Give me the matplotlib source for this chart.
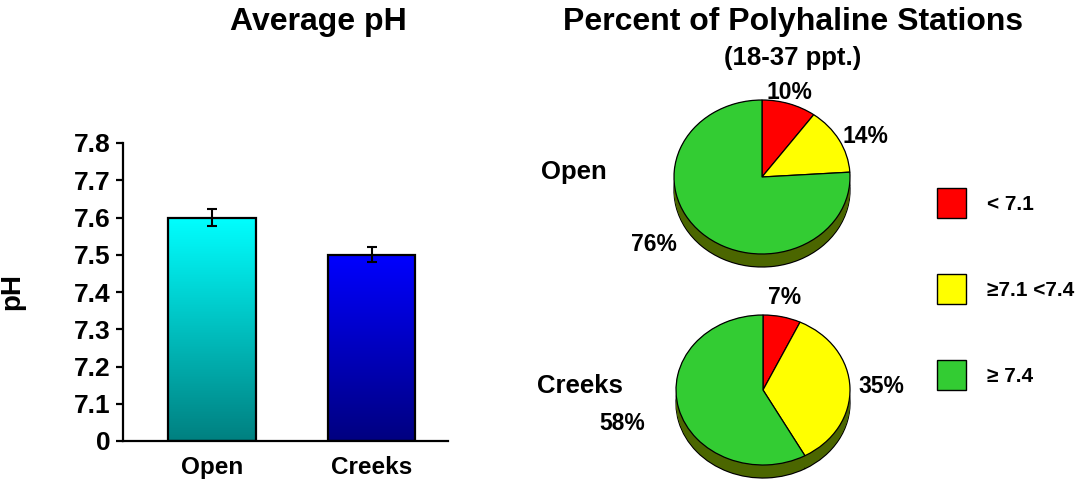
import numpy as np
import matplotlib
matplotlib.use("Agg")
from matplotlib import pyplot as plt

plt.rcParams["font.family"] = ["Liberation Sans", "DejaVu Sans"]
plt.rcParams["font.weight"] = "bold"

# data
sites = ["Open", "Creeks"]
avg_ph = [7.60, 7.50]
ph_err = [0.022, 0.02]
ph_ticks = [7.0, 7.1, 7.2, 7.3, 7.4, 7.5, 7.6, 7.7, 7.8]
ph_ticklabels = ["0", "7.1", "7.2", "7.3", "7.4", "7.5", "7.6", "7.7", "7.8"]

classes = ["< 7.1", "\u22657.1 <7.4", "\u2265 7.4"]
open_pct = [10, 14, 76]
creeks_pct = [7, 35, 58]

class_colors = ["#ff0000", "#ffff00", "#33cc33"]
side_color = "#4b6600"
bar_grad = [("#00ffff", "#008080"), ("#0000ff", "#000080")]

W, H = 1083, 482
fig = plt.figure(figsize=(W / 100, H / 100), dpi=100)


def fx(px):
    return px / W


def fy(py):
    return 1 - py / H


# ---- bar chart ----
ax = fig.add_axes([fx(123), fy(441), fx(448) - fx(123), fy(143) - fy(441)])
x = np.arange(len(sites))
width = 0.55
bars = ax.bar(x, np.array(avg_ph) - 7.0, bottom=7.0, width=width,
              facecolor="none", edgecolor="black", linewidth=1.6, zorder=3)
for b, (top_c, bot_c), xi, v in zip(bars, bar_grad, x, avg_ph):
    grad = np.linspace(0, 1, 256)[:, None]
    c1 = np.array(matplotlib.colors.to_rgb(top_c))
    c2 = np.array(matplotlib.colors.to_rgb(bot_c))
    img = c1[None, None, :] * (1 - grad[:, :, None]) + c2[None, None, :] * grad[:, :, None]
    im = ax.imshow(img, extent=[xi - width / 2, xi + width / 2, 7.0, v],
                   aspect="auto", origin="upper", zorder=2)
    im.set_clip_path(b)
ax.errorbar(x, avg_ph, yerr=ph_err, fmt="none", ecolor="black",
            elinewidth=1.5, capsize=3.5, capthick=1.5, zorder=4)
ax.set_xlim(-0.56, 1.48)
ax.set_ylim(7.0, 7.8)
ax.set_yticks(ph_ticks)
ax.set_yticklabels(ph_ticklabels, fontsize=19, fontweight="bold")
ax.set_xticks(x)
ax.set_xticklabels(sites, fontsize=17.5, fontweight="bold")
ax.tick_params(axis="y", direction="out", length=5, width=1.6, pad=4)
ax.tick_params(axis="x", length=0, pad=11)
for s in ["top", "right"]:
    ax.spines[s].set_visible(False)
for s in ["left", "bottom"]:
    ax.spines[s].set_linewidth(1.6)
ax.set_ylabel("pH", fontsize=20, fontweight="bold")
ax.yaxis.set_label_coords(-0.30, 0.5)

fig.text(fx(318), fy(22), "Average pH", fontsize=23, fontweight="bold",
         ha="center", va="center")

# ---- pies ----
fig.text(fx(793), fy(22), "Percent of Polyhaline Stations", fontsize=23,
         fontweight="bold", ha="center", va="center")
fig.text(fx(793), fy(58), "(18-37 ppt.)", fontsize=18.5, fontweight="bold",
         ha="center", va="center")

XL, YL = (-1.3, 1.3), (-1.5, 1.3)


def pie3d(cx, cy, rx, ry, depth_px, values, label_pos, name, name_xy):
    pax = fig.add_axes([fx(cx + XL[0] * rx), fy(cy - YL[0] * ry),
                        (XL[1] - XL[0]) * rx / W, (YL[1] - YL[0]) * ry / H])
    d = depth_px / ry
    # side of the disc
    n = 14
    for k in range(n + 1):
        off = -d * (1 - k / n)
        pax.pie(values, startangle=90, counterclock=False,
                colors=[side_color] * len(values), center=(0, off),
                wedgeprops=dict(linewidth=0.9 if k == 0 else 0,
                                edgecolor="black"))
    # top face
    pax.pie(values, startangle=90, counterclock=False, colors=class_colors,
            wedgeprops=dict(linewidth=0.9, edgecolor="black"))
    pax.set_aspect("auto")
    pax.set_xlim(*XL)
    pax.set_ylim(*YL)
    pax.axis("off")
    for v, (lx, ly) in zip(values, label_pos):
        pax.text(lx, ly, f"{v}%", fontsize=16.5, fontweight="bold",
                 ha="center", va="center", clip_on=False)
    fig.text(fx(name_xy[0]), fy(name_xy[1]), name, fontsize=18.5,
             fontweight="bold", ha="center", va="center")


pie3d(762, 177, 88, 77, 13, open_pct,
      [(0.31, 1.10), (1.18, 0.52), (-1.23, -0.88)], "Open", (574, 172))
pie3d(763, 390, 87, 75, 13, creeks_pct,
      [(0.25, 1.24), (1.36, 0.05), (-1.62, -0.45)], "Creeks", (580, 386))

# ---- legend ----
for i, (lab, col) in enumerate(zip(classes, class_colors)):
    ytop = 188 + i * 86
    fig.patches.append(plt.Rectangle((fx(937), fy(ytop + 30)), fx(29), 30 / H,
                                     facecolor=col, edgecolor="black",
                                     linewidth=1, transform=fig.transFigure))
    fig.text(fx(987), fy(ytop + 16), lab, fontsize=15, fontweight="bold",
             ha="left", va="center")

fig.savefig("out.png", dpi=100)
